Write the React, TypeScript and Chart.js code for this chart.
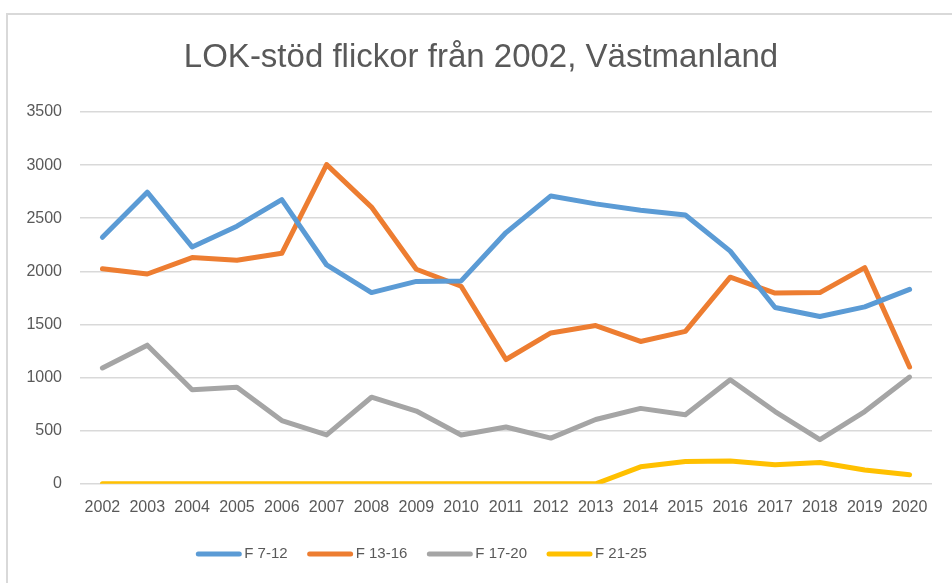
import React, { useEffect, useRef } from "react";
import { Chart, registerables } from "chart.js";

Chart.register(...registerables);

const TITLE = "LOK-stöd flickor från 2002, Västmanland";
const YEARS = [
  "2002", "2003", "2004", "2005", "2006", "2007", "2008", "2009", "2010", "2011",
  "2012", "2013", "2014", "2015", "2016", "2017", "2018", "2019", "2020",
];
const F_7_12 = [2320, 2745, 2230, 2425, 2675, 2060, 1800, 1905, 1910, 2365, 2710, 2635, 2575, 2530, 2190, 1660, 1575, 1665, 1830];
const F_13_16 = [2025, 1975, 2130, 2105, 2170, 3005, 2605, 2020, 1860, 1170, 1420, 1490, 1340, 1435, 1945, 1795, 1800, 2035, 1100];
const F_17_20 = [1090, 1305, 885, 910, 595, 460, 815, 685, 460, 535, 430, 605, 710, 650, 980, 680, 415, 680, 1005];
const F_21_25 = [0, 0, 0, 0, 0, 0, 0, 0, 0, 0, 0, 0, 160, 210, 215, 180, 200, 130, 85];
const SERIES_LABELS = ["F 7-12", "F 13-16", "F 17-20", "F 21-25"];
const SERIES_COLORS = ["#5b9bd5", "#ed7d31", "#a5a5a5", "#ffc000"];
const Y_TICKS = { min: 0, max: 3500, step: 500 };

const TEXT_COLOR = "#595959";
const FONT = '"Liberation Sans", Arial, sans-serif';

const titleAndLegend = {
  id: "titleAndLegend",
  afterDraw(chart: any) {
    const ctx = chart.ctx as CanvasRenderingContext2D;
    ctx.save();
    // Title
    ctx.fillStyle = TEXT_COLOR;
    ctx.font = `33px ${FONT}`;
    ctx.textAlign = "center";
    ctx.textBaseline = "alphabetic";
    ctx.fillText(TITLE, 481, 67);

    // Legend
    ctx.font = `15px ${FONT}`;
    const lineLen = 45;
    const textGap = 3;
    const itemGap = 20;
    const ds = chart.data.datasets;
    const widths = ds.map((d: any) => lineLen + textGap + ctx.measureText(d.label).width);
    const total = widths.reduce((a: number, b: number) => a + b, 0) + itemGap * (ds.length - 1);
    let x = 421.5 - total / 2;
    const y = 554;
    ds.forEach((d: any, i: number) => {
      ctx.strokeStyle = d.borderColor;
      ctx.lineWidth = 5;
      ctx.lineCap = "round";
      ctx.beginPath();
      ctx.moveTo(x + 2, y);
      ctx.lineTo(x + lineLen - 2, y);
      ctx.stroke();
      ctx.fillStyle = TEXT_COLOR;
      ctx.textAlign = "left";
      ctx.textBaseline = "middle";
      ctx.fillText(d.label, x + lineLen + textGap, y);
      x += widths[i] + itemGap;
    });
    ctx.restore();
  },
};

export default function App() {
  const ref = useRef<HTMLCanvasElement | null>(null);

  useEffect(() => {
    if (!ref.current) return;
    const series = [F_7_12, F_13_16, F_17_20, F_21_25];
    const chart = new Chart(ref.current, {
      type: "line",
      data: {
        labels: YEARS,
        datasets: series.map((data, i) => ({
          label: SERIES_LABELS[i],
          data,
          borderColor: SERIES_COLORS[i],
          backgroundColor: SERIES_COLORS[i],
          borderWidth: 5,
          pointRadius: 0,
          pointHoverRadius: 0,
          tension: 0,
          borderCapStyle: "round" as const,
          borderJoinStyle: "round" as const,
          fill: false,
        })),
      },
      options: {
        animation: false,
        responsive: false,
        devicePixelRatio: 1,
        layout: { padding: { left: 8, right: 20, top: 112, bottom: 60 } },
        plugins: {
          legend: { display: false },
          title: { display: false },
          tooltip: { enabled: false },
        },
        scales: {
          x: {
            offset: true,
            grid: { display: false },
            border: { display: false },
            ticks: {
              color: TEXT_COLOR,
              font: { family: FONT, size: 16 },
              maxRotation: 0,
              autoSkip: false,
              padding: 6,
            },
          },
          y: {
            min: Y_TICKS.min,
            max: Y_TICKS.max,
            grid: { color: "#d9d9d9", lineWidth: 1.5, drawTicks: false },
            border: { display: false },
            ticks: {
              stepSize: Y_TICKS.step,
              color: TEXT_COLOR,
              font: { family: FONT, size: 16 },
              padding: 18,
              callback: (v: any) => String(v),
            },
            afterFit(scale: any) {
              scale.width = 72;
            },
          },
        },
      },
      plugins: [titleAndLegend],
    });
    return () => chart.destroy();
  }, []);

  return (
    <div style={{ position: "fixed", inset: 0, overflow: "hidden", background: "#fff" }}>
      <div
        style={{
          position: "absolute",
          left: 6,
          top: 13,
          width: 1100,
          height: 800,
          border: "2px solid #d9d9d9",
          boxSizing: "border-box",
        }}
      />
      <canvas
        ref={ref}
        width={952}
        height={583}
        style={{ position: "absolute", left: 0, top: 0, width: 952, height: 583 }}
      />
    </div>
  );
}
